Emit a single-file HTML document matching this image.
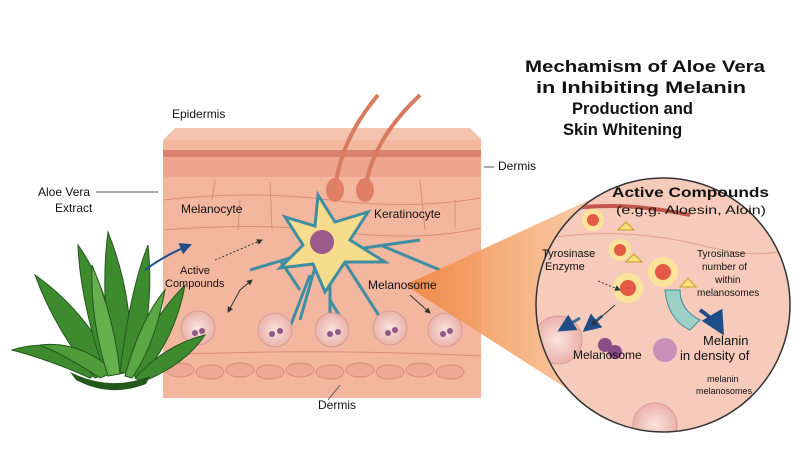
<!DOCTYPE html>
<html><head><meta charset="utf-8"><style>
body{margin:0;background:#fff;width:800px;height:450px;overflow:hidden}
svg text{font-family:"Liberation Sans",Arial,sans-serif;fill:#111}
</style></head><body>
<svg width="800" height="450" viewBox="0 0 800 450">
<defs>
<linearGradient id="beam" x1="0" x2="1"><stop offset="0" stop-color="#f0843e"/><stop offset="1" stop-color="#f9c9a0"/></linearGradient>
<radialGradient id="mel"><stop offset="0" stop-color="#fbe3df"/><stop offset="1" stop-color="#eab2ab"/></radialGradient>
<clipPath id="cc"><circle cx="663" cy="305" r="126"/></clipPath>
<marker id="ah" markerWidth="6" markerHeight="6" refX="5" refY="3" orient="auto"><path d="M0,0L6,3L0,6z" fill="#333"/></marker>
<marker id="ab" markerWidth="6" markerHeight="6" refX="5" refY="3" orient="auto"><path d="M0,0L6,3L0,6z" fill="#1f4d8a"/></marker>
</defs>
<!-- skin block -->
<path d="M163,140 L175,128 L470,128 L482,140 Z" fill="#f5c2ad"/>
<rect x="163" y="140" width="318" height="258" fill="#f3b7a0"/>
<rect x="163" y="150" width="318" height="7" fill="#d9826d"/>
<rect x="163" y="157" width="318" height="20" fill="#eda58f"/>
<g fill="none" stroke="#d98d7a" stroke-width="1">
<path d="M163,200 Q250,190 330,200 T481,198"/>
<path d="M163,230 Q260,222 340,232 T481,228"/>
<path d="M215,180 L212,200 M270,182 L272,230 M360,185 L360,200 M420,180 L425,230 M240,200 L238,230 M455,200 L455,228"/>
<path d="M163,355 Q320,348 481,356"/>
</g>
<g fill="#eea895" stroke="#d98d7a">
<ellipse cx="180" cy="370" rx="14" ry="7"/><ellipse cx="210" cy="372" rx="14" ry="7"/><ellipse cx="240" cy="370" rx="14" ry="7"/><ellipse cx="270" cy="372" rx="14" ry="7"/><ellipse cx="300" cy="370" rx="14" ry="7"/><ellipse cx="330" cy="372" rx="14" ry="7"/><ellipse cx="360" cy="370" rx="14" ry="7"/><ellipse cx="390" cy="372" rx="14" ry="7"/><ellipse cx="420" cy="370" rx="14" ry="7"/><ellipse cx="450" cy="372" rx="14" ry="7"/>
</g>
<!-- hairs -->
<path d="M335,190 Q340,140 378,95" stroke="#d87a60" stroke-width="4" fill="none"/>
<path d="M365,190 Q372,140 420,95" stroke="#d87a60" stroke-width="4" fill="none"/>
<ellipse cx="335" cy="190" rx="9" ry="12" fill="#e07f65"/>
<ellipse cx="365" cy="190" rx="9" ry="12" fill="#e07f65"/>
<!-- melanocyte -->
<g stroke="#3f8da0" stroke-width="3" fill="none">
<path d="M320,250 L300,320 M300,290 L280,260 M330,260 L330,335 M330,300 L345,325 M340,255 L385,325 M350,250 L420,240 M380,245 L440,270 M300,255 L250,270 M310,275 L285,340"/>
</g>
<path d="M318,195 L335,222 L368,212 L350,240 L385,262 L345,262 L325,292 L313,264 L280,268 L303,245 L285,217 L315,226 Z" fill="#f6dc8c" stroke="#3f8da0" stroke-width="3"/>
<circle cx="322" cy="242" r="12" fill="#9b5a8c"/>
<!-- melanosomes -->
<g fill="url(#mel)" stroke="#d99b93">
<circle cx="198" cy="328" r="17"/><circle cx="275" cy="330" r="17"/><circle cx="332" cy="330" r="17"/><circle cx="390" cy="328" r="17"/><circle cx="445" cy="330" r="17"/>
</g>
<g fill="#8f5a86"><circle cx="195" cy="333" r="3"/><circle cx="202" cy="331" r="3"/><circle cx="272" cy="334" r="3"/><circle cx="280" cy="331" r="3"/><circle cx="330" cy="334" r="3"/><circle cx="338" cy="332" r="3"/><circle cx="388" cy="333" r="3"/><circle cx="395" cy="330" r="3"/><circle cx="443" cy="334" r="3"/><circle cx="450" cy="331" r="3"/></g>
<!-- beam -->
<path d="M405,285 L600,195 L600,410 Z" fill="url(#beam)" opacity="0.9"/>
<!-- circle -->
<circle cx="663" cy="305" r="127" fill="#f7cbbb" stroke="#333" stroke-width="1.5"/>
<g clip-path="url(#cc)">
<path d="M535,240 Q620,225 700,245 T795,240" stroke="#e0a08e" fill="none"/>
<path d="M560,210 Q620,200 690,215" stroke="#c2584a" stroke-width="4" fill="none"/>
<circle cx="558" cy="340" r="24" fill="url(#mel)" stroke="#d99b93"/>
<circle cx="655" cy="425" r="22" fill="url(#mel)" stroke="#d99b93"/>
</g>
<g><circle cx="593" cy="220" r="11" fill="#fbe39a"/><circle cx="593" cy="220" r="6" fill="#e45a45"/>
<circle cx="620" cy="250" r="11" fill="#fbe39a"/><circle cx="620" cy="250" r="6" fill="#e45a45"/>
<circle cx="628" cy="288" r="15" fill="#fbe39a"/><circle cx="628" cy="288" r="8" fill="#e45a45"/>
<circle cx="663" cy="272" r="15" fill="#fbe39a"/><circle cx="663" cy="272" r="8" fill="#e45a45"/></g>
<g fill="#f8e07a" stroke="#c99b2b"><path d="M618,230L626,222L634,230Z"/><path d="M626,262L634,254L642,262Z"/><path d="M680,287L688,278L696,287Z"/></g>
<path d="M665,290 Q668,320 690,330 L700,320 Q680,310 680,290Z" fill="#9ed0c8" stroke="#3f8da0"/>
<circle cx="605" cy="345" r="7" fill="#8a4d87"/><circle cx="615" cy="352" r="7" fill="#8a4d87"/>
<circle cx="665" cy="350" r="12" fill="#c98fb8"/>
<path d="M700,310 Q715,320 722,332" stroke="#1f4d8a" stroke-width="4" fill="none" marker-end="url(#ab)"/>
<path d="M580,318 L560,330" stroke="#3f6f9a" stroke-width="3" marker-end="url(#ab)"/>
<path d="M602,316 L585,330" stroke="#3f6f9a" stroke-width="3" marker-end="url(#ab)"/>
<path d="M615,305 L592,325" stroke="#333" marker-end="url(#ah)"/>
<path d="M598,281 L620,290" stroke="#333" stroke-dasharray="2 2" marker-end="url(#ah)"/>
<!-- aloe -->
<g fill="#3e8a2e" stroke="#24581b">
<path d="M90,378 Q50,360 12,350 Q60,335 110,365Z"/>
<path d="M95,378 Q55,330 35,275 Q85,310 115,370Z"/>
<path d="M105,375 Q80,300 78,245 Q110,290 122,370Z"/>
<path d="M112,375 Q100,290 108,232 Q135,300 130,372Z"/>
<path d="M120,372 Q130,290 148,245 Q155,310 135,375Z"/>
<path d="M128,374 Q150,320 185,285 Q175,340 140,378Z"/>
<path d="M135,378 Q165,345 205,335 Q185,365 142,382Z"/>
<path d="M100,378 Q65,355 40,345 Q80,340 115,372Z" fill="#4f9c3a"/>
<path d="M108,376 Q90,320 92,265 Q115,320 120,374Z" fill="#66b04e"/>
<path d="M125,376 Q140,320 165,290 Q155,345 132,378Z" fill="#5aa844"/>
</g>
<path d="M70,372 Q110,392 150,376 L146,384 Q110,398 76,380Z" fill="#24581b"/>
<!-- arrows -->
<path d="M145,270 Q165,255 190,245" stroke="#1f4d8a" stroke-width="2" fill="none" marker-end="url(#ab)"/>
<path d="M96,192 L158,192" stroke="#555"/>
<path d="M484,167 L494,167" stroke="#555"/>
<path d="M340,385 L328,400" stroke="#555"/>
<path d="M215,260 L262,240" stroke="#333" stroke-dasharray="2 2" marker-end="url(#ah)"/>
<path d="M240,290 L228,312" stroke="#333" marker-end="url(#ah)"/>
<path d="M240,290 L252,280" stroke="#333" marker-end="url(#ah)"/>
<path d="M410,295 L430,313" stroke="#333" marker-end="url(#ah)"/>
<!-- text -->
<text x="172" y="118" font-size="12">Epidermis</text>
<text x="38" y="196" font-size="12">Aloe Vera</text>
<text x="55" y="212" font-size="12">Extract</text>
<text x="181" y="213" font-size="12">Melanocyte</text>
<text x="374" y="218" font-size="12">Keratinocyte</text>
<text x="180" y="274" font-size="11">Active</text>
<text x="165" y="287" font-size="11">Compounds</text>
<text x="368" y="289" font-size="12">Melanosome</text>
<text x="498" y="170" font-size="12">Dermis</text>
<text x="318" y="409" font-size="12">Dermis</text>
<g font-weight="bold" font-size="16.5"><text x="525" y="72" textLength="240" lengthAdjust="spacingAndGlyphs">Mechamism of Aloe Vera</text><text x="536" y="93" textLength="210" lengthAdjust="spacingAndGlyphs">in Inhibiting Melanin</text><text x="572" y="114">Production and</text><text x="563" y="135">Skin Whitening</text></g>
<text x="612" y="197" font-size="14" font-weight="bold" textLength="157" lengthAdjust="spacingAndGlyphs">Active Compounds</text>
<text x="616" y="214" font-size="12" textLength="150" lengthAdjust="spacingAndGlyphs">(e.g.g. Aloesin, Aloin)</text>
<text x="542" y="257" font-size="11">Tyrosinase</text>
<text x="545" y="270" font-size="11">Enzyme</text>
<text x="697" y="257" font-size="10">Tyrosinase</text>
<text x="702" y="270" font-size="10">number of</text>
<text x="715" y="283" font-size="10">within</text>
<text x="697" y="296" font-size="10">melanosomes</text>
<text x="573" y="359" font-size="12">Melanosome</text>
<text x="703" y="345" font-size="13">Melanin</text>
<text x="680" y="360" font-size="13">in density of</text>
<text x="707" y="382" font-size="9">melanin</text>
<text x="696" y="394" font-size="9">melanosomes</text>
</svg>
</body></html>
